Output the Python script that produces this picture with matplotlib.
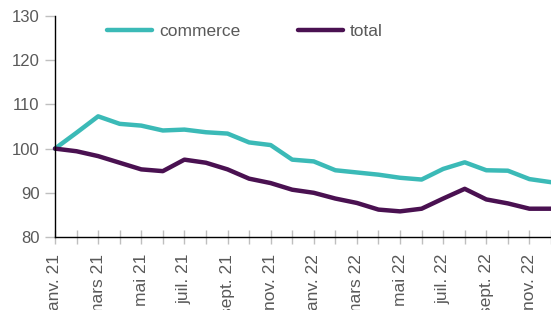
import matplotlib
matplotlib.use("Agg")
import matplotlib.pyplot as plt
import numpy as np

plt.rcParams["font.family"] = ["Liberation Sans", "DejaVu Sans"]

months = ["janv. 21", "févr. 21", "mars 21", "avr. 21", "mai 21", "juin 21",
          "juil. 21", "août 21", "sept. 21", "oct. 21", "nov. 21", "déc. 21",
          "janv. 22", "févr. 22", "mars 22", "avr. 22", "mai 22", "juin 22",
          "juil. 22", "août 22", "sept. 22", "oct. 22", "nov. 22", "déc. 22"]

commerce = [100.0, 103.6, 107.3, 105.6, 105.2, 104.1, 104.3, 103.7, 103.4, 101.4,
            100.8, 97.5, 97.1, 95.1, 94.6, 94.1, 93.4, 93.0, 95.4, 96.9,
            95.1, 95.0, 93.1, 92.4]
total = [100.0, 99.4, 98.3, 96.8, 95.3, 94.9, 97.5, 96.8, 95.3, 93.2,
         92.2, 90.7, 90.0, 88.7, 87.7, 86.2, 85.8, 86.4, 88.7, 90.9,
         88.5, 87.6, 86.4, 86.4]

TEAL = "#3bbab7"
PURPLE = "#4a1151"
GREY = "#595959"

fig = plt.figure(figsize=(5.51, 3.10), dpi=100)
ax = fig.add_axes([55 / 551, 1 - 237 / 310, 1 - 55 / 551, (237 - 16) / 310])

x = np.arange(len(months))
ax.plot(x, commerce, color=TEAL, lw=3.2, solid_capstyle="round",
        solid_joinstyle="round", label="commerce", clip_on=False)
ax.plot(x, total, color=PURPLE, lw=3.2, solid_capstyle="round",
        solid_joinstyle="round", label="total", clip_on=False)

ax.set_xlim(0, len(months) - 1)
ax.set_ylim(80, 130)
ax.set_yticks(range(80, 131, 10))
ax.set_xticks(x)
ax.set_xticklabels([m if i % 2 == 0 else "" for i, m in enumerate(months)],
                   rotation=90, va="top", ha="center")

for s in ["top", "right"]:
    ax.spines[s].set_visible(False)
for s in ["left", "bottom"]:
    ax.spines[s].set_color("black")
    ax.spines[s].set_linewidth(1.0)
ax.set_zorder(1)

ax.tick_params(axis="both", colors="#bfbfbf", labelcolor=GREY, width=1)
ax.tick_params(axis="y", length=7, pad=4, labelsize=12)
ax.tick_params(axis="x", direction="inout", length=10, pad=7, labelsize=12.5)

leg = fig.legend(loc="center left", bbox_to_anchor=(107 / 551, 1 - 31 / 310),
                 ncol=2, frameon=False, fontsize=12.5, handlelength=2.6,
                 handletextpad=0.4, columnspacing=3.3, borderpad=0,
                 borderaxespad=0)
for t in leg.get_texts():
    t.set_color(GREY)
for h in leg.get_lines():
    h.set_linewidth(3.2)
    h.set_solid_capstyle("round")

fig.savefig("out.png", dpi=100)
